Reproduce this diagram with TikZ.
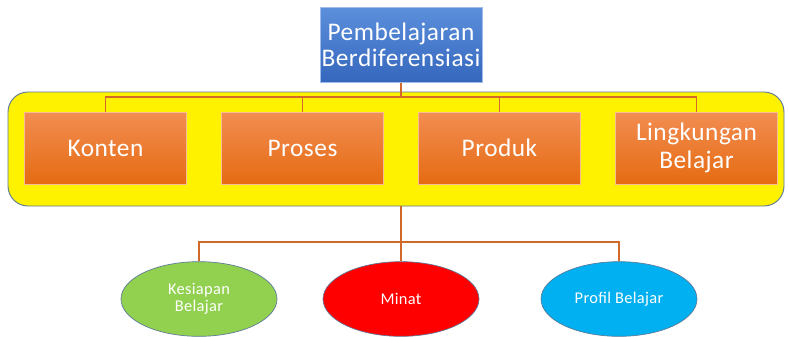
\documentclass[tikz,border=0pt]{standalone}
\usepackage{fontspec}
\setmainfont{Carlito}[LetterSpace=2]
\usetikzlibrary{shapes.geometric,positioning,calc}
\definecolor{topBlueA}{HTML}{5B8FDB}
\definecolor{topBlueB}{HTML}{3567BD}
\definecolor{boxOrA}{HTML}{F28D52}
\definecolor{boxOrB}{HTML}{E56B12}
\definecolor{linkOr}{HTML}{D0692A}
\definecolor{bandEdge}{HTML}{5C7898}
\definecolor{ovGreen}{HTML}{92D050}
\definecolor{ovCyan}{HTML}{00B0F0}
\tikzset{
    rootbox/.style={rectangle, draw=topBlueA!60!white, line width=0.6pt, top color=topBlueA, bottom color=topBlueB, text=white, font=\fontsize{19}{19.5}\selectfont, align=center, minimum width=121.5pt, minimum height=56pt, inner sep=0pt},
    aspectbox/.style={rectangle, draw=boxOrA!60!white, line width=0.6pt, top color=boxOrA, bottom color=boxOrB, text=white, font=\fontsize{19}{20.5}\selectfont, align=center, minimum width=122pt, minimum height=54pt, inner sep=0pt},
    band/.style={rectangle, rounded corners=15pt, draw=bandEdge, line width=0.7pt, fill=yellow, minimum width=582pt, minimum height=85.5pt},
    need/.style={ellipse, draw=bandEdge, line width=0.5pt, text=white, font=\fontsize{12.3}{13}\selectfont, align=center, minimum width=117pt, minimum height=56pt, inner sep=0pt},
    link/.style={draw=linkOr, line width=1.1pt}
}

\begin{document}
\begin{tikzpicture}[x=0.75pt,y=-0.75pt]
\useasboundingbox (0,0) rectangle (788,336);

% yellow band behind the four aspects
\node[band] (bnd) at (396,149) {};

% root
\node[rootbox] (root) at (401,45) {Pembelajaran\\Berdiferensiasi};

% aspects
\node[aspectbox] (konten) at (105.5,148) {Konten};
\node[aspectbox] (proses) at (302.5,148) {Proses};
\node[aspectbox] (produk) at (499.5,148) {Produk};
\node[aspectbox] (lingk)  at (696.5,148) {Lingkungan\\Belajar};

% learner needs
\node[need, fill=ovGreen] (siap)   at (199,299) {Kesiapan\\Belajar};
\node[need, fill=red]     (minat)  at (401,299) {Minat};
\node[need, fill=ovCyan]  (profil) at (619,299) {Profil Belajar};

% ----------------------------
% connectors
% ----------------------------
\coordinate (busA) at (401,97);
\coordinate (busB) at (401,242);

\draw[link] (root.south) -- (busA);
\foreach \n in {konten,proses,produk,lingk} {
  \draw[link] (\n.north) |- (busA);
}

\draw[link] (bnd.south -| minat.north) -- (minat.north);
\foreach \n in {siap,profil} {
  \draw[link] (\n.north) |- (busB);
}

\end{tikzpicture}
\end{document}
